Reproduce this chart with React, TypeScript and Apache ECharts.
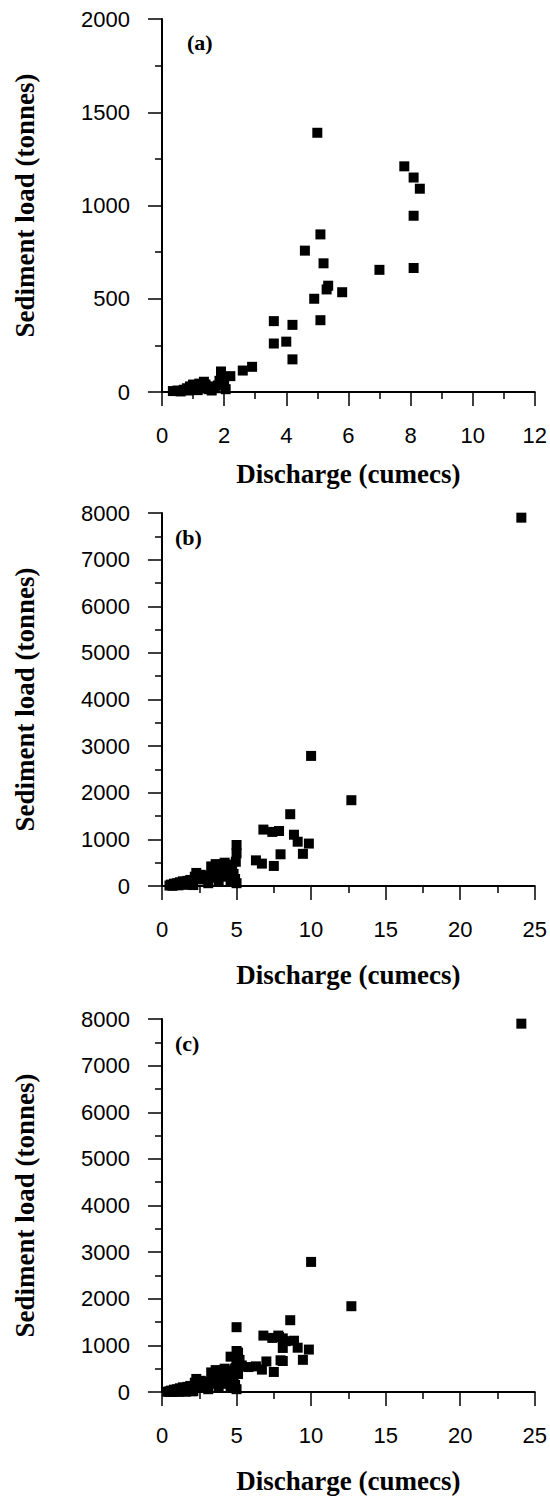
import React, { useEffect, useRef } from "react";
import * as echarts from "echarts";

const panelLabels = ["(a)", "(b)", "(c)"];
const xTitle = "Discharge (cumecs)";
const yTitle = "Sediment load (tonnes)";

// Panel (a)
const aDischarge = [
  0.35, 0.5, 0.6, 0.7, 0.8, 0.85, 0.9, 1.0, 1.0, 1.1, 1.15, 1.2, 1.25, 1.3, 1.35, 1.4, 1.5, 1.55, 1.6, 1.7,
  1.8, 1.85, 1.9, 1.95, 2.0, 2.05, 2.2, 2.6, 2.9, 3.6, 3.6, 4.0, 4.2, 4.2, 4.6, 4.9, 5.0, 5.1, 5.1, 5.2,
  5.3, 5.35, 5.8, 7.0, 7.8, 8.1, 8.3, 8.1, 8.1,
];
const aLoad = [
  5, 8, 3, 12, 20, 8, 30, 15, 40, 25, 10, 45, 30, 20, 55, 40, 15, 30, 8, 20,
  35, 60, 110, 80, 40, 15, 85, 115, 135, 380, 260, 270, 360, 175, 758, 500, 1390, 845, 385, 690,
  550, 570, 535, 655, 1210, 1150, 1090, 945, 665,
];

// Panel (b)
const bDischarge = [
  0.5, 0.6, 0.7, 0.8, 0.9, 1.0, 1.1, 1.2, 1.3, 1.4, 1.5, 1.6, 1.7, 1.8, 1.9, 2.0, 2.1,
  2.2, 2.3, 2.4, 2.6, 2.8, 3.0, 3.1, 3.2, 3.3, 3.4, 3.5, 3.6, 3.7, 3.8, 3.9, 4.0, 4.2, 4.3,
  4.4, 4.5, 4.6, 4.7, 4.8, 4.9, 4.95, 5.0, 5.0, 5.0,
  6.3, 6.7, 6.8, 7.4, 7.5, 7.85, 7.95, 8.6, 8.85, 9.1, 9.45, 9.85, 10.0, 12.7, 24.1,
];
const bLoad = [
  10, 30, 5, 50, 20, 60, 15, 80, 40, 100, 25, 70, 110, 45, 130, 90, 20,
  200, 280, 150, 240, 140, 170, 60, 220, 420, 300, 180, 470, 350, 120, 250, 430, 500, 330,
  200, 460, 120, 380, 260, 150, 520, 60, 700, 880,
  550, 480, 1210, 1160, 430, 1180, 680, 1540, 1100, 950, 690, 910, 2790, 1840, 7900,
];

// Panel (c): all events combined (a + b)
const cDischarge = [...aDischarge, ...bDischarge];
const cLoad = [...aLoad, ...bLoad];

const xMax = [12, 25, 25];
const xInterval = [2, 5, 5];
const yMax = [2000, 8000, 8000];
const yInterval = [500, 1000, 1000];

const panelData = [
  [aDischarge, aLoad],
  [bDischarge, bLoad],
  [cDischarge, cLoad],
];

export default function App() {
  const ref = useRef<HTMLDivElement>(null);
  useEffect(() => {
    document.body.style.margin = "0";
    if (!ref.current) return;
    const chart = echarts.init(ref.current, null, { renderer: "svg" });
    const tops = [19, 513, 1019];
    const widths = [373, 375, 375];
    const labelPos = [
      [187, 31],
      [175, 526],
      [175, 1032],
    ];
    const grids = tops.map((t, i) => ({ left: 162, top: t, width: widths[i], height: 373 }));
    const axisCommon = {
      axisLine: { show: true, onZero: false, lineStyle: { color: "#000", width: 2 } },
      axisTick: { show: true, inside: false, length: 14, lineStyle: { color: "#000", width: 1.5 } },
      minorTick: { show: true, splitNumber: 2, length: 7, lineStyle: { color: "#000", width: 1.5 } },
      splitLine: { show: false },
      axisLabel: {
        color: "#000",
        fontFamily: "Liberation Sans",
        fontSize: 22,
        margin: 32,
        formatter: (v: number) => String(v),
      },
      nameTextStyle: { color: "#000", fontFamily: "Liberation Serif", fontWeight: "bold", fontSize: 27 },
    };
    const xAxes = [0, 1, 2].map((i) => ({
      ...axisCommon,
      type: "value",
      gridIndex: i,
      min: 0,
      max: xMax[i],
      interval: xInterval[i],
      name: xTitle,
      nameLocation: "middle",
      nameGap: i === 0 ? 68 : 75,
    }));
    const yAxes = [0, 1, 2].map((i) => ({
      ...axisCommon,
      type: "value",
      gridIndex: i,
      min: 0,
      max: yMax[i],
      interval: yInterval[i],
      name: yTitle,
      nameLocation: "middle",
      nameGap: 124,
    }));
    const series = panelData.map(([xs, ys], i) => ({
      type: "scatter",
      xAxisIndex: i,
      yAxisIndex: i,
      symbol: "rect",
      symbolSize: 10,
      itemStyle: { color: "#000", opacity: 1 },
      data: xs.map((x, j) => [x, ys[j]]),
    }));
    chart.setOption({
      animation: false,
      backgroundColor: "#fff",
      grid: grids,
      xAxis: xAxes,
      yAxis: yAxes,
      series,
      graphic: panelLabels.map((t, i) => ({
        type: "text",
        left: labelPos[i][0],
        top: labelPos[i][1],
        style: { text: t, fill: "#000", font: "bold 22px 'Liberation Serif'" },
      })),
    });
    return () => chart.dispose();
  }, []);
  return <div ref={ref} style={{ width: 550, height: 1501 }} />;
}
